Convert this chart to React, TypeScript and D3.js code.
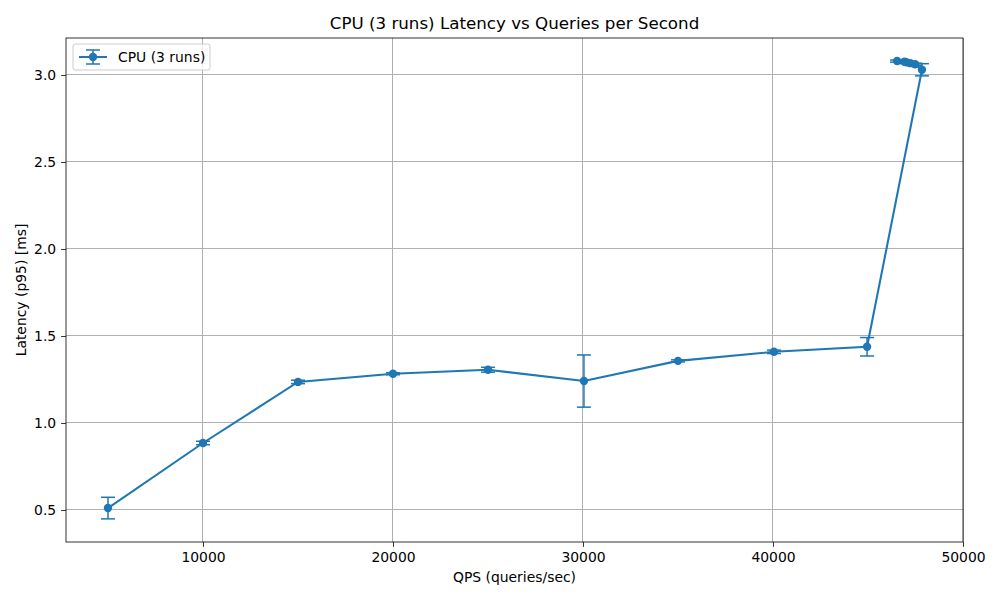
import { useEffect, useRef } from 'react';
import * as d3 from 'd3';

// achieved QPS, p95 latency (ms), std error across runs
const qps = [5000, 10000, 15000, 20000, 25000, 30050, 35000, 40050, 44950, 47840, 47480, 47230, 47020, 46920, 46530];
const latency = [0.511, 0.885, 1.236, 1.283, 1.306, 1.241, 1.357, 1.409, 1.438, 3.030, 3.062, 3.068, 3.073, 3.076, 3.080];
const errors = [0.062, 0.010, 0.010, 0.006, 0.014, 0.150, 0.006, 0.010, 0.053, 0.035, 0.006, 0.006, 0.008, 0.006, 0.006];
const xTicks = [10000, 20000, 30000, 40000, 50000];
const yTicks = [0.5, 1.0, 1.5, 2.0, 2.5, 3.0];
const seriesName = 'CPU (3 runs)';

export default function App() {
  const svgRef = useRef<SVGSVGElement>(null);

  useEffect(() => {
    const width = 1000;
    const height = 600;
    const svg = d3.select(svgRef.current);
    svg.selectAll('*').remove();
    svg.attr('width', width).attr('height', height);

    const margin = { top: 38, right: 37, bottom: 58, left: 66 };
    const color = '#1f77b4';
    const font = 'DejaVu Sans, sans-serif';

    const x = d3.scaleLinear().domain([2790, 50000]).range([margin.left, width - margin.right]);
    const y = d3.scaleLinear().domain([0.316, 3.2126]).range([height - margin.bottom, margin.top]);

    svg.append('rect').attr('width', width).attr('height', height).attr('fill', 'white');

    // grid
    const grid = svg.append('g').attr('shape-rendering', 'crispEdges');
    xTicks.forEach(t => {
      grid.append('line')
        .attr('x1', x(t)).attr('x2', x(t))
        .attr('y1', margin.top).attr('y2', height - margin.bottom)
        .attr('stroke', '#b0b0b0').attr('stroke-width', 1);
    });
    yTicks.forEach(t => {
      grid.append('line')
        .attr('x1', margin.left).attr('x2', width - margin.right)
        .attr('y1', y(t)).attr('y2', y(t))
        .attr('stroke', '#b0b0b0').attr('stroke-width', 1);
    });

    // axes
    const xAxis = svg.append('g')
      .attr('transform', `translate(0,${height - margin.bottom})`)
      .call(d3.axisBottom(x).tickValues(xTicks).tickFormat(d3.format('d')).tickSize(4.9).tickPadding(4.9));
    const yAxis = svg.append('g')
      .attr('transform', `translate(${margin.left},0)`)
      .call(d3.axisLeft(y).tickValues(yTicks).tickFormat(d3.format('.1f')).tickSize(4.9).tickPadding(4.9));
    [xAxis, yAxis].forEach(a => {
      a.select('.domain').remove();
      a.selectAll('text').attr('font-size', 13.9).attr('font-family', font).attr('fill', 'black');
      a.selectAll('line').attr('stroke', 'black').attr('stroke-width', 0.8);
    });

    svg.append('rect')
      .attr('x', margin.left).attr('y', margin.top)
      .attr('width', width - margin.left - margin.right)
      .attr('height', height - margin.top - margin.bottom)
      .attr('fill', 'none').attr('stroke', 'black').attr('stroke-width', 0.8);

    const data = qps.map((q, i) => ({ q, l: latency[i], e: errors[i] }));

    // error bars
    const eb = svg.append('g').attr('stroke', color).attr('stroke-width', 1.5);
    data.forEach(d => {
      eb.append('line').attr('x1', x(d.q)).attr('x2', x(d.q)).attr('y1', y(d.l - d.e)).attr('y2', y(d.l + d.e));
      [d.l - d.e, d.l + d.e].forEach(v => {
        eb.append('line').attr('x1', x(d.q) - 7).attr('x2', x(d.q) + 7).attr('y1', y(v)).attr('y2', y(v));
      });
    });

    const line = d3.line<{ q: number; l: number }>().x(d => x(d.q)).y(d => y(d.l));
    svg.append('path').datum(data).attr('d', line)
      .attr('fill', 'none').attr('stroke', color).attr('stroke-width', 2.08);

    svg.append('g').selectAll('circle').data(data).enter().append('circle')
      .attr('cx', d => x(d.q)).attr('cy', d => y(d.l)).attr('r', 4.2).attr('fill', color);

    // title and labels
    svg.append('text').attr('x', (margin.left + width - margin.right) / 2).attr('y', 29)
      .attr('text-anchor', 'middle').attr('font-size', 16.7).attr('font-family', font)
      .text('CPU (3 runs) Latency vs Queries per Second');
    svg.append('text').attr('x', (margin.left + width - margin.right) / 2).attr('y', 582)
      .attr('text-anchor', 'middle').attr('font-size', 13.9).attr('font-family', font)
      .text('QPS (queries/sec)');
    svg.append('text')
      .attr('transform', `translate(26,${(margin.top + height - margin.bottom) / 2}) rotate(-90)`)
      .attr('text-anchor', 'middle').attr('font-size', 13.9).attr('font-family', font)
      .text('Latency (p95) [ms]');

    // legend
    const lg = svg.append('g').attr('transform', `translate(73,44)`);
    lg.append('rect').attr('width', 137).attr('height', 26).attr('rx', 2.5)
      .attr('fill', 'white').attr('fill-opacity', 0.8).attr('stroke', '#cccccc').attr('stroke-width', 1);
    lg.append('line').attr('x1', 6).attr('x2', 34).attr('y1', 13).attr('y2', 13).attr('stroke', color).attr('stroke-width', 2.08);
    lg.append('line').attr('x1', 20).attr('x2', 20).attr('y1', 6).attr('y2', 20).attr('stroke', color).attr('stroke-width', 1.5);
    [6, 20].forEach(v => {
      lg.append('line').attr('x1', 13).attr('x2', 27).attr('y1', v).attr('y2', v).attr('stroke', color).attr('stroke-width', 1.5);
    });
    lg.append('circle').attr('cx', 20).attr('cy', 13).attr('r', 4.2).attr('fill', color);
    lg.append('text').attr('x', 45).attr('y', 18).attr('font-size', 13.9).attr('font-family', font).text(seriesName);
  }, []);

  return (
    <div>
      <svg ref={svgRef} style={{ position: 'absolute', left: 0, top: 0 }}></svg>
    </div>
  );
}
